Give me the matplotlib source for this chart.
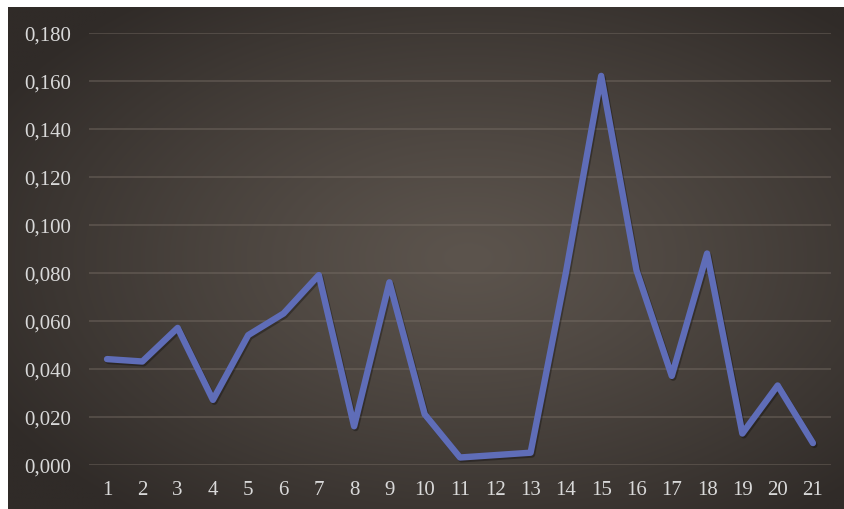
#!/usr/bin/env python3
import numpy as np
import matplotlib
matplotlib.use("Agg")
import matplotlib.pyplot as plt
import matplotlib.patheffects as pe
from matplotlib.ticker import FuncFormatter, MultipleLocator

# data
categories = list(range(1, 22))
values = [0.044, 0.043, 0.057, 0.027, 0.054, 0.063, 0.079, 0.016, 0.076, 0.021, 0.003,
          0.004, 0.005, 0.080, 0.162, 0.081, 0.037, 0.088, 0.013, 0.033, 0.009]

W, H = 845, 510
fig = plt.figure(figsize=(W / 100, H / 100), dpi=100)
fig.patch.set_facecolor("white")

# radial gradient background (lighter centre, darker edges), white strip top/left
bg = fig.add_axes([8 / W, 0, 1 - 8 / W, 1 - 8 / H], zorder=0)
ny, nx = 300, 500
yy, xx = np.mgrid[0:1:ny * 1j, 0:1:nx * 1j]
r = np.sqrt(((xx - 0.55) / 0.65) ** 2 + ((yy - 0.5) / 0.65) ** 2)
r = np.clip(r, 0, 1) ** 1.2
c_in = np.array([0x5c, 0x54, 0x4d]) / 255
c_out = np.array([0x30, 0x2b, 0x28]) / 255
img = c_in[None, None, :] * (1 - r[..., None]) + c_out[None, None, :] * r[..., None]
bg.imshow(img, aspect="auto", extent=[0, 1, 0, 1], interpolation="bilinear")
bg.axis("off")

ax = fig.add_axes([89.4 / W, 44.3 / H, 741.2 / W, 432 / H], zorder=1)
ax.patch.set_alpha(0)

ax.plot(categories, values, color="#5f6db8", lw=4.6, solid_joinstyle="round",
        solid_capstyle="round", zorder=3,
        path_effects=[pe.SimpleLineShadow(offset=(1.0, -1.3), shadow_color="black", alpha=0.3),
                      pe.Normal()])

ax.set_xlim(0.5, 21.5)
ax.set_ylim(0, 0.18)
ax.yaxis.set_major_locator(MultipleLocator(0.02))
ax.yaxis.set_major_formatter(FuncFormatter(lambda v, p: f"{v:.3f}".replace(".", ",")))
ax.set_xticks(categories)
ax.grid(axis="y", color="#7a7068", lw=1.3, alpha=0.45, zorder=1)
for s in ax.spines.values():
    s.set_visible(False)

ax.tick_params(axis="y", length=0, pad=13, labelsize=15, labelcolor="#d9d9d9")
ax.tick_params(axis="x", length=0, pad=11, labelsize=15, labelcolor="#d9d9d9")
for lab in ax.get_xticklabels() + ax.get_yticklabels():
    lab.set_family(["Liberation Serif", "DejaVu Serif"])

fig.savefig("out.png", dpi=100)
plt.close(fig)
